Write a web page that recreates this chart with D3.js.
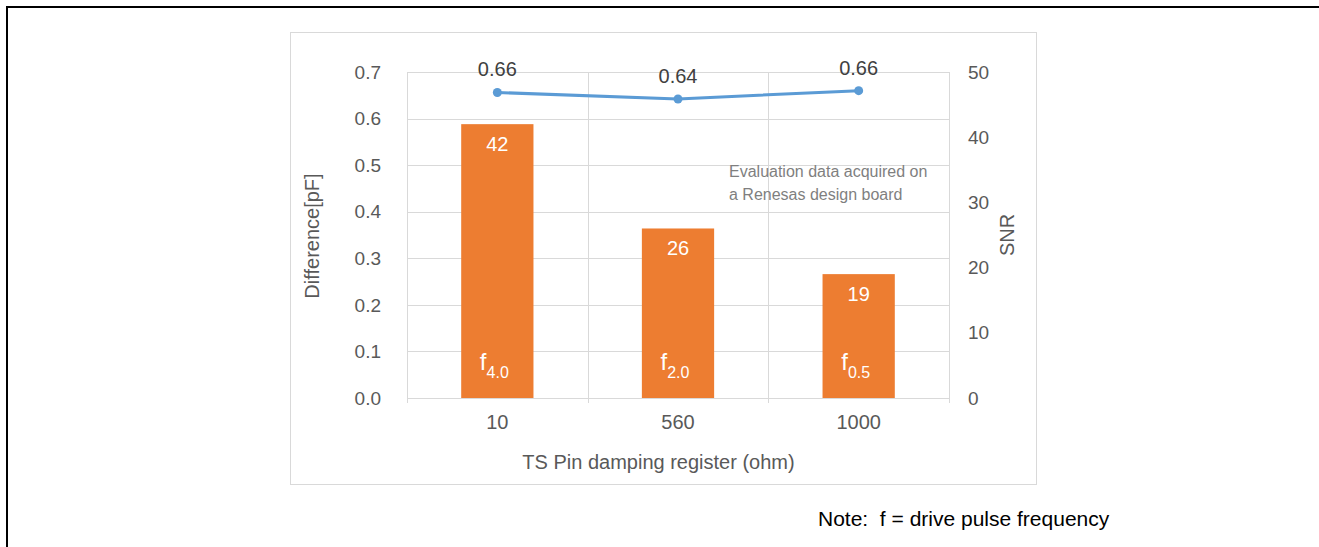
<!DOCTYPE html>
<html>
<head>
<meta charset="utf-8">
<script src="https://cdn.jsdelivr.net/npm/d3@7"></script>
<style>
  html, body { margin: 0; padding: 0; background: #ffffff; }
  svg { display: block; font-family: "Liberation Sans", Arial, sans-serif; }
</style>
</head>
<body>
<svg id="chart" width="1319" height="547"></svg>
<script>
const categories = ["10", "560", "1000"];
const snrValues = [42, 26, 19];
const differenceValues = [0.656, 0.642, 0.660];
const differenceLabels = ["0.66", "0.64", "0.66"];
const freqSubscripts = ["4.0", "2.0", "0.5"];
const leftTicks = [0, 0.1, 0.2, 0.3, 0.4, 0.5, 0.6, 0.7];
const rightTicks = [0, 10, 20, 30, 40, 50];
const xTitle = "TS Pin damping register (ohm)";
const leftTitle = "Difference[pF]";
const rightTitle = "SNR";
const noteLines = ["Evaluation data acquired on", "a Renesas design board"];
const footNote = "Note:  f = drive pulse frequency";

const svg = d3.select("#chart");
const W = 1319, H = 547;

// outer frame (top and left edges)
svg.append("line").attr("x1", 7).attr("x2", W).attr("y1", 7).attr("y2", 7)
  .attr("stroke", "#000").attr("stroke-width", 2);
svg.append("line").attr("x1", 7).attr("x2", 7).attr("y1", 6).attr("y2", H)
  .attr("stroke", "#000").attr("stroke-width", 2);

// chart box
svg.append("rect").attr("x", 290.5).attr("y", 32.5).attr("width", 746).attr("height", 452)
  .attr("fill", "#fff").attr("stroke", "#d9d9d9").attr("stroke-width", 1);

const plot = { left: 407, right: 949, top: 72, bottom: 398 };

const x = d3.scaleBand().domain(categories).range([plot.left, plot.right]).padding(0);
const yL = d3.scaleLinear().domain([0, 0.7]).range([plot.bottom, plot.top]);
const yR = d3.scaleLinear().domain([0, 50]).range([plot.bottom, plot.top]);

const grid = svg.append("g");
// horizontal gridlines
grid.selectAll("line.h").data(leftTicks).join("line")
  .attr("x1", plot.left).attr("x2", plot.right)
  .attr("y1", d => Math.round(yL(d)) + 0.5).attr("y2", d => Math.round(yL(d)) + 0.5)
  .attr("stroke", "#d9d9d9").attr("stroke-width", 1);
// vertical gridlines at category boundaries (with tick marks below axis)
const bounds = categories.map(c => x(c)).concat([x(categories[categories.length - 1]) + x.bandwidth()]);
grid.selectAll("line.v").data(bounds).join("line")
  .attr("x1", d => Math.round(d) + 0.5).attr("x2", d => Math.round(d) + 0.5)
  .attr("y1", plot.top).attr("y2", plot.bottom + 5)
  .attr("stroke", "#d9d9d9").attr("stroke-width", 1);

// bars
const barW = x.bandwidth() * 0.4;
const cx = c => x(c) + x.bandwidth() / 2;
svg.append("g").selectAll("rect").data(categories).join("rect")
  .attr("x", c => cx(c) - barW / 2)
  .attr("y", (c, i) => yR(snrValues[i]))
  .attr("width", barW)
  .attr("height", (c, i) => yR(0) - yR(snrValues[i]))
  .attr("fill", "#ED7D31");

// bar value labels
svg.append("g").selectAll("text").data(categories).join("text")
  .attr("x", cx)
  .attr("y", (c, i) => yR(snrValues[i]) + 26.5)
  .attr("text-anchor", "middle")
  .attr("font-size", 20)
  .attr("fill", "#ffffff")
  .text((c, i) => snrValues[i]);

// frequency labels inside bars
const fl = svg.append("g").selectAll("text").data(categories).join("text")
  .attr("x", c => cx(c) - 3)
  .attr("y", 370)
  .attr("text-anchor", "middle")
  .attr("fill", "#ffffff");
fl.append("tspan").attr("font-size", 24).text("f");
fl.append("tspan").attr("font-size", 16).attr("dy", 8).text((c, i) => freqSubscripts[i]);

// line
const line = d3.line().x((d, i) => cx(categories[i])).y(d => yL(d));
svg.append("path").datum(differenceValues)
  .attr("d", line).attr("fill", "none")
  .attr("stroke", "#5B9BD5").attr("stroke-width", 3).attr("stroke-linejoin", "round");
svg.append("g").selectAll("circle").data(differenceValues).join("circle")
  .attr("cx", (d, i) => cx(categories[i])).attr("cy", d => yL(d)).attr("r", 4.5)
  .attr("fill", "#5B9BD5");
svg.append("g").selectAll("text").data(differenceValues).join("text")
  .attr("x", (d, i) => cx(categories[i]))
  .attr("y", d => yL(d) - 16)
  .attr("text-anchor", "middle")
  .attr("font-size", 20)
  .attr("fill", "#404040")
  .text((d, i) => differenceLabels[i]);

// left axis ticks
svg.append("g").selectAll("text").data(leftTicks).join("text")
  .attr("x", 381).attr("y", d => yL(d)).attr("dy", "0.35em")
  .attr("text-anchor", "end").attr("font-size", 19).attr("fill", "#595959")
  .text(d => d3.format(".1f")(d));

// right axis ticks
svg.append("g").selectAll("text").data(rightTicks).join("text")
  .attr("x", 968).attr("y", d => yR(d)).attr("dy", "0.35em")
  .attr("text-anchor", "start").attr("font-size", 19).attr("fill", "#595959")
  .text(d => d);

// x tick labels
svg.append("g").selectAll("text").data(categories).join("text")
  .attr("x", cx).attr("y", 429)
  .attr("text-anchor", "middle").attr("font-size", 20).attr("fill", "#595959")
  .text(d => d);

// axis titles
svg.append("text").attr("x", 658.5).attr("y", 469).attr("text-anchor", "middle")
  .attr("font-size", 20).attr("fill", "#595959").text(xTitle);
svg.append("text").attr("transform", "translate(319,236) rotate(-90)")
  .attr("text-anchor", "middle").attr("font-size", 20).attr("fill", "#595959").text(leftTitle);
svg.append("text").attr("transform", "translate(1014,235) rotate(-90)")
  .attr("text-anchor", "middle").attr("font-size", 20).attr("fill", "#595959").text(rightTitle);

// annotation
svg.append("g").selectAll("text").data(noteLines).join("text")
  .attr("x", 729).attr("y", (d, i) => 176.5 + i * 23.5)
  .attr("font-size", 16).attr("fill", "#7f7f7f").text(d => d);

// footnote
svg.append("text").attr("x", 818).attr("y", 526).attr("font-size", 21)
  .attr("fill", "#000").attr("xml:space", "preserve").style("white-space", "pre").text(footNote);
</script>
</body>
</html>
